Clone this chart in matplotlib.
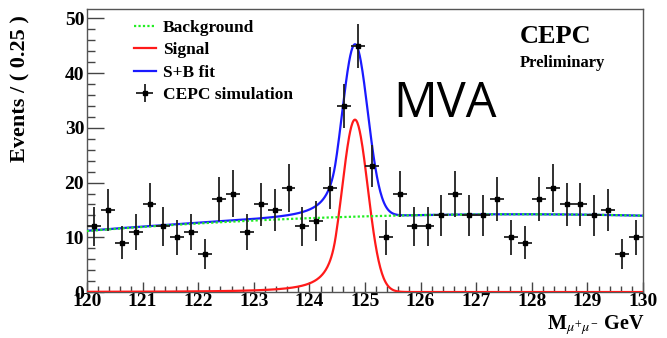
import numpy as np
import matplotlib
matplotlib.use("Agg")
from matplotlib import pyplot as plt
from matplotlib.lines import Line2D
from matplotlib.ticker import MultipleLocator

# dimuon mass bins, 0.25 GeV wide
bin_lo = 120.0
bin_width = 0.25
counts = [12, 15, 9, 11, 16, 12, 10, 11, 7, 17,
          18, 11, 16, 15, 19, 12, 13, 19, 34, 45,
          23, 10, 18, 12, 12, 14, 18, 14, 14, 17,
          10, 9, 17, 19, 16, 16, 14, 15, 7, 10]
errors = [3.5, 3.9, 3.0, 3.3, 4.0, 3.5, 3.2, 3.3, 2.7, 4.1,
          4.3, 3.3, 4.0, 3.9, 4.4, 3.5, 3.6, 3.8, 4.0, 4.0,
          3.8, 3.2, 4.2, 3.5, 3.5, 3.7, 4.2, 3.7, 3.7, 4.1,
          3.2, 3.0, 4.1, 4.4, 4.0, 4.0, 3.7, 3.9, 2.7, 3.2]

# fitted shapes: quadratic background around 125 GeV, crystal-ball signal
bkg_coef = [13.83, 0.28, -0.051]
sig_peak = 31.5
sig_mean = 124.82
sig_sigma = 0.23
sig_alpha = 1.5
sig_n = 2.0


def background(m):
    t = m - 125.0
    return bkg_coef[0] + bkg_coef[1] * t + bkg_coef[2] * t ** 2


def signal(m):
    t = (m - sig_mean) / sig_sigma
    a = (sig_n / sig_alpha) ** sig_n * np.exp(-0.5 * sig_alpha ** 2)
    b = sig_n / sig_alpha - sig_alpha
    core = np.exp(-0.5 * t ** 2)
    tail = a * np.abs(b - t) ** (-sig_n)
    return sig_peak * np.where(t > -sig_alpha, core, tail)


plt.rcParams["mathtext.fontset"] = "stix"
serif = "Liberation Serif"

fig = plt.figure(figsize=(6.67, 3.38), dpi=100)
ax = fig.add_axes([0.1304, 0.136, 0.8336, 0.837])

centers = bin_lo + bin_width * (np.arange(len(counts)) + 0.5)
m = np.linspace(120, 130, 1000)

ax.plot(m, signal(m), color="#ff1a1a", lw=1.6, zorder=3)
ax.plot(m, background(m) + signal(m), color="#1a1aff", lw=1.6, zorder=3)
ax.plot(m, background(m), color="#22ee22", lw=1.6, ls=(0, (1, 1)), zorder=4)
ax.errorbar(centers, counts, yerr=errors, xerr=bin_width / 2, fmt="s",
            ms=3.5, color="black", ecolor="#202020", elinewidth=1.3,
            capsize=0, zorder=5)

ax.set_xlim(120, 130)
ax.set_ylim(0, 51.7)
ax.xaxis.set_major_locator(MultipleLocator(1))
ax.xaxis.set_minor_locator(MultipleLocator(0.2))
ax.yaxis.set_major_locator(MultipleLocator(10))
ax.yaxis.set_minor_locator(MultipleLocator(2))
ax.tick_params(which="both", direction="in", color="#444444", width=1.0)
ax.tick_params(axis="x", which="major", length=7.5, pad=1)
ax.tick_params(axis="x", which="minor", length=4.5)
ax.tick_params(axis="y", which="major", length=12, pad=2)
ax.tick_params(axis="y", which="minor", length=6)
for lab in ax.get_xticklabels():
    lab.set_fontfamily(serif)
    lab.set_fontweight("bold")
    lab.set_fontsize(14)
for lab in ax.get_yticklabels():
    lab.set_fontfamily(serif)
    lab.set_fontweight("bold")
    lab.set_fontsize(14)
for sp in ax.spines.values():
    sp.set_color("#555555")
    sp.set_linewidth(1.0)

fig.text(0.03, 0.738, "Events / ( 0.25 )", rotation=90, ha="center",
         va="center", family=serif, fontweight="bold", fontsize=16)
fig.text(0.966, 0.038, r"M$_{\mu^{+}\mu^{-}}$ GeV", ha="right", va="center",
         family=serif, fontweight="bold", fontsize=14.5)

handles = [
    Line2D([], [], color="#22ee22", lw=1.6, ls=(0, (1, 1))),
    Line2D([], [], color="#ff1a1a", lw=1.6),
    Line2D([], [], color="#1a1aff", lw=1.6),
    ax.errorbar([], [], yerr=[], xerr=[], fmt="s", ms=3.5, color="black",
                ecolor="#202020", elinewidth=1.3),
]
labels = ["Background", "Signal", "S+B fit", "CEPC simulation"]
ax.legend(handles, labels, loc="upper left", bbox_to_anchor=(0.0845, 0.962),
          frameon=False, borderpad=0, borderaxespad=0, handlelength=1.25,
          handletextpad=0.4, labelspacing=0.36,
          prop={"family": serif, "weight": "bold", "size": 12.5})

ax.text(0.779, 0.903, "CEPC", transform=ax.transAxes, ha="left",
        va="center", family=serif, fontweight="bold", fontsize=19)
ax.text(0.779, 0.811, "Preliminary", transform=ax.transAxes, ha="left",
        va="center", family=serif, fontweight="bold", fontsize=12)
ax.text(0.55, 0.665, "MVA", transform=ax.transAxes, ha="left",
        va="center", family="Open Sans", fontsize=35)

fig.savefig("out.png", dpi=100)
